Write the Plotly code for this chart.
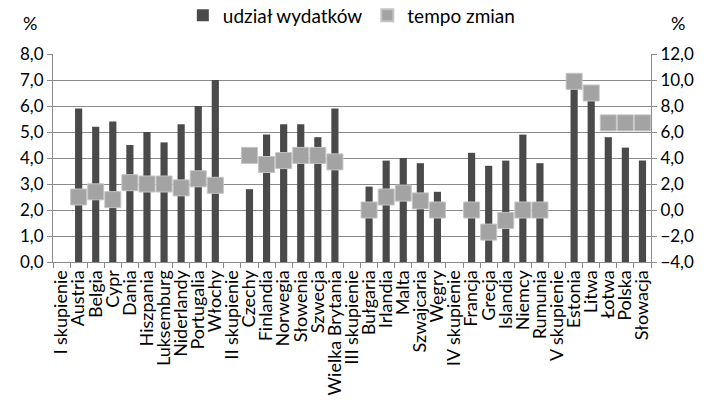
import plotly.graph_objects as go

categories = ["I skupienie", "Austria", "Belgia", "Cypr", "Dania", "Hiszpania", "Luksemburg",
              "Niderlandy", "Portugalia", "Włochy", "II skupienie", "Czechy", "Finlandia",
              "Norwegia", "Słowenia", "Szwecja", "Wielka Brytania", "III skupienie", "Bułgaria",
              "Irlandia", "Malta", "Szwajcaria", "Węgry", "IV skupienie", "Francja", "Grecja",
              "Islandia", "Niemcy", "Rumunia", "V skupienie", "Estonia", "Litwa", "Łotwa",
              "Polska", "Słowacja"]

udzial = [None, 5.9, 5.2, 5.4, 4.5, 5.0, 4.6, 5.3, 6.0, 7.0,
          None, 2.8, 4.9, 5.3, 5.3, 4.8, 5.9,
          None, 2.9, 3.9, 4.0, 3.8, 2.7,
          None, 4.2, 3.7, 3.9, 4.9, 3.8,
          None, 6.8, 6.4, 4.8, 4.4, 3.9]

tempo = [None, 1.0, 1.4, 0.8, 2.1, 2.0, 2.0, 1.7, 2.4, 1.9,
         None, 4.2, 3.5, 3.8, 4.2, 4.2, 3.7,
         None, 0.0, 1.0, 1.3, 0.7, 0.0,
         None, 0.0, -1.7, -0.8, 0.0, 0.0,
         None, 9.9, 9.0, 6.7, 6.7, 6.7]

left_ticks = [0, 1, 2, 3, 4, 5, 6, 7, 8]
right_ticks = [-4, -2, 0, 2, 4, 6, 8, 10, 12]

FONT = "Lato"
grid = "#8a8a8a"

fig = go.Figure()
fig.add_trace(go.Bar(x=categories, y=udzial, name="udział wydatków",
                     marker=dict(color="#4a4a4a", line=dict(width=0)), width=0.42))
fig.add_trace(go.Scatter(x=categories, y=tempo, name="tempo zmian", mode="markers",
                         yaxis="y2",
                         marker=dict(symbol="square", size=16, color="#a3a3a3",
                                     line=dict(color="#c4c4c4", width=1))))

fig.update_layout(
    width=706, height=404,
    margin=dict(l=53, r=55, t=54, b=142, autoexpand=False),
    paper_bgcolor="white", plot_bgcolor="white",
    separators=", ",
    font=dict(family=FONT, size=17, color="#000000"),
    showlegend=True,
    legend=dict(orientation="h", xref="container", yref="container",
                x=0.259, xanchor="left", y=0.962, yanchor="middle",
                font=dict(size=19), itemwidth=30, traceorder="normal",
                itemsizing="constant", bgcolor="rgba(0,0,0,0)"),
    xaxis=dict(type="category", tickmode="linear", dtick=1, tickangle=-90,
               range=[-0.5, len(categories) - 0.5],
               tickson="boundaries", ticks="outside", automargin=False,
               ticklen=5, tickcolor=grid, showline=True, linecolor=grid, linewidth=1,
               showgrid=False, tickfont=dict(size=18)),
    yaxis=dict(range=[0, 8], tickvals=left_ticks, tickformat=".1f", showgrid=True,
               gridcolor=grid, gridwidth=1, showline=True, linecolor=grid, ticks="outside",
               ticklen=5, tickcolor=grid, zeroline=False, tickfont=dict(size=17),
               automargin=False),
    yaxis2=dict(range=[-4, 12], tickvals=right_ticks, tickformat=".1f", overlaying="y",
                side="right", showgrid=False, showline=True, linecolor=grid, ticks="outside",
                ticklen=5, tickcolor=grid, zeroline=False, tickfont=dict(size=17),
                automargin=False),
    annotations=[
        dict(text="%", xref="paper", yref="paper", x=-0.0385, y=1.149, showarrow=False,
             font=dict(size=18), xanchor="center", yanchor="middle"),
        dict(text="%", xref="paper", yref="paper", x=1.045, y=1.149, showarrow=False,
             font=dict(size=18), xanchor="center", yanchor="middle"),
    ],
)

fig.write_html("out.html", config={"displayModeBar": False},
               post_script="document.body.style.margin='0';document.body.style.padding='0';")
